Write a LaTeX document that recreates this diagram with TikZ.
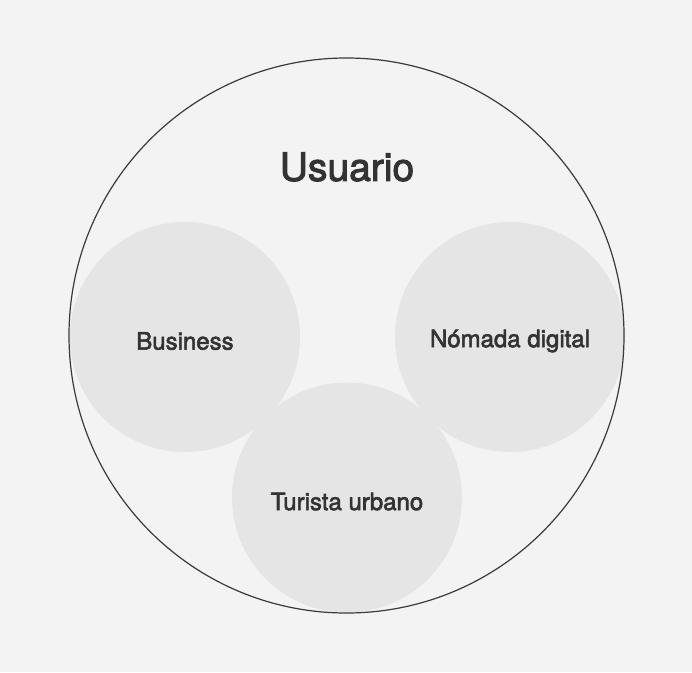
\documentclass[tikz,border=0pt]{standalone}
\usepackage{fontspec}
\setmainfont{TeX Gyre Heros}
\newfontfamily\medfont{TeX Gyre Heros}[FakeBold=2.5]
\definecolor{bg}{HTML}{F3F3F3}
\definecolor{sub}{HTML}{E5E5E5}
\definecolor{txt}{HTML}{333333}
\definecolor{ring}{HTML}{3A3A3A}
\begin{document}
\begin{tikzpicture}[x=1pt,y=-1pt,
  subset/.style={circle,fill=sub,minimum size=230pt,inner sep=0pt},
  sublabel/.style={text=txt,font=\medfont\fontsize{24}{28}\selectfont},
  outer/.style={circle,draw=ring,line width=1.2pt,minimum size=555pt,inner sep=0pt}]
\fill[bg] (0,0) rectangle (692,672);
\useasboundingbox (0,0) rectangle (692,672);
\node[subset] (business) at (185,337) {};
\node[subset] (nomada) at (510,337) {};
\node[subset] (turista) at (347,497.5) {};
\node[outer] (usuario) at (346.5,335.5) {};
\node[sublabel] (lbusiness) at ([yshift=-4pt]business.center) {Business};
\node[sublabel] (lnomada) at ([yshift=-4pt]nomada.center) {Nómada digital};
\node[sublabel] (lturista) at ([yshift=-4pt]turista.center) {Turista urbano};
\node[text=txt,font=\medfont\fontsize{39}{44}\selectfont] (title) at (347,167) {Usuario};
\end{tikzpicture}
\end{document}
